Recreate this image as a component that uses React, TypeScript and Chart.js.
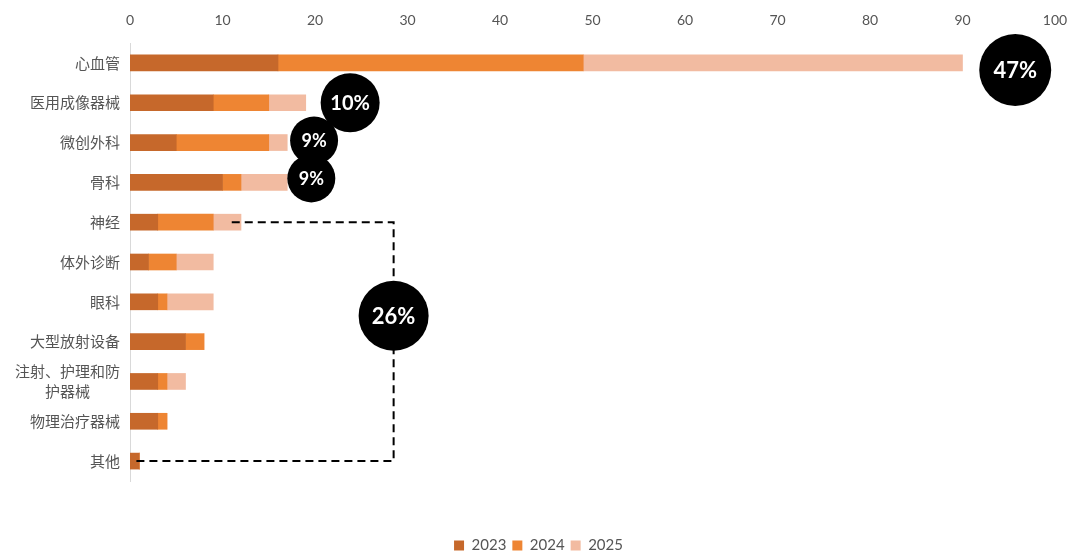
import React, { useEffect, useRef } from "react";
import { Chart, registerables } from "chart.js";

Chart.register(...registerables);

// ---- data ----
const categories: (string | string[])[] = [
  "心血管",
  "医用成像器械",
  "微创外科",
  "骨科",
  "神经",
  "体外诊断",
  "眼科",
  "大型放射设备",
  ["注射、护理和防", "护器械\u3000\u3000"],
  "物理治疗器械",
  "其他",
];
const seriesNames = ["2023", "2024", "2025"];
const values2023 = [16, 9, 5, 10, 3, 2, 3, 6, 3, 3, 1];
const values2024 = [33, 6, 10, 2, 6, 3, 1, 2, 1, 1, 0];
const values2025 = [41, 4, 2, 5, 3, 4, 5, 0, 2, 0, 0];
const seriesColors = ["#C6682B", "#EE8533", "#F2BBA1"];
const xMin = 0;
const xMax = 100;
const xStep = 10;

// annotation bubbles (value-axis position, category position)
const bubbleLabels = ["47%", "10%", "9%", "9%", "26%"];
const bubbleX = [95.7, 23.8, 19.9, 19.6, 28.5];
const bubbleY = [0.18, 1, 1.95, 2.9, 6.35];
const bubbleR = [36, 29.5, 24, 24, 35];
const bubbleFont = [22, 20, 18, 18, 22];
// dashed bracket (value-axis, category position)
const bracketX = [11, 28.5, 28.5, 0.5];
const bracketY = [4, 4, 10, 10];

const GRAY = "#555555";

const annotationPlugin = {
  id: "bubbleAnnotations",
  afterLayout(chart: any) {
    // centre the legend under the whole picture like the reference
    if (chart.legend) {
      chart.legend.left += 11;
      chart.legend.right += 11;
    }
  },
  afterDatasetsDraw(chart: any) {
    const { ctx } = chart;
    const x = chart.scales.x;
    const y = chart.scales.y;
    ctx.save();
    // bracket
    ctx.setLineDash([8, 5]);
    ctx.lineWidth = 2;
    ctx.strokeStyle = "#000";
    ctx.beginPath();
    bracketX.forEach((v, i) => {
      const px = x.getPixelForValue(v);
      const py = y.getPixelForValue(bracketY[i]);
      if (i === 0) ctx.moveTo(px, py);
      else ctx.lineTo(px, py);
    });
    ctx.stroke();
    ctx.setLineDash([]);
    // bubbles
    bubbleLabels.forEach((label, i) => {
      const px = x.getPixelForValue(bubbleX[i]);
      const py = y.getPixelForValue(bubbleY[i]);
      ctx.beginPath();
      ctx.arc(px, py, bubbleR[i], 0, Math.PI * 2);
      ctx.fillStyle = "#000";
      ctx.fill();
      ctx.fillStyle = "#fff";
      ctx.font = `bold ${bubbleFont[i]}px Lato, "Noto Sans", sans-serif`;
      ctx.textAlign = "center";
      ctx.textBaseline = "middle";
      ctx.fillText(label, px, py + 1);
    });
    ctx.restore();
  },
};

export default function App() {
  const ref = useRef<HTMLCanvasElement>(null);
  useEffect(() => {
    document.body.style.margin = "0";
    const allValues = [values2023, values2024, values2025];
    const chart = new Chart(ref.current as HTMLCanvasElement, {
      type: "bar",
      data: {
        labels: categories as any,
        datasets: seriesNames.map((name, i) => ({
          label: name,
          data: allValues[i],
          backgroundColor: seriesColors[i],
          borderWidth: 0,
          barThickness: 16,
        })),
      },
      options: {
        indexAxis: "y",
        animation: false,
        responsive: true,
        maintainAspectRatio: false,
        layout: { padding: { top: 4, right: 17, left: 0, bottom: -11 } },
        scales: {
          x: {
            type: "linear",
            position: "top",
            stacked: true,
            min: xMin,
            max: xMax,
            ticks: {
              stepSize: xStep,
              color: GRAY,
              font: { family: "Lato", size: 14 },
              padding: 14,
            },
            grid: { display: false, drawTicks: false },
            border: { display: false },
            afterFit: (s: any) => {
              s.height = 39;
              s.paddingRight = 0;
              s.paddingLeft = 0;
            },
          },
          xBottom: {
            type: "linear",
            axis: "x",
            position: "bottom",
            display: true,
            min: 0,
            max: 1,
            ticks: { display: false },
            grid: { display: false, drawTicks: false },
            border: { display: false },
            afterFit: (s: any) => {
              s.height = 51;
              s.paddingRight = 0;
              s.paddingLeft = 0;
            },
          },
          y: {
            type: "category",
            stacked: true,
            ticks: {
              autoSkip: false,
              color: GRAY,
              font: { family: "Noto Sans CJK SC", size: 15, lineHeight: 1.3 },
              padding: 10,
            },
            grid: { display: false, drawTicks: false },
            border: { display: true, color: "#D9D9D9", width: 1 },
            afterFit: (s: any) => {
              s.width = 130;
            },
          },
        } as any,
        plugins: {
          legend: {
            position: "bottom",
            labels: {
              boxWidth: 10,
              boxHeight: 10,
              padding: 6,
              color: GRAY,
              font: { family: "Lato", size: 15 },
            },
          },
          tooltip: { enabled: false },
        },
      },
      plugins: [annotationPlugin],
    });
    return () => chart.destroy();
  }, []);
  return (
    <div style={{ width: 1072, height: 552, position: "relative" }}>
      <canvas ref={ref} />
    </div>
  );
}
